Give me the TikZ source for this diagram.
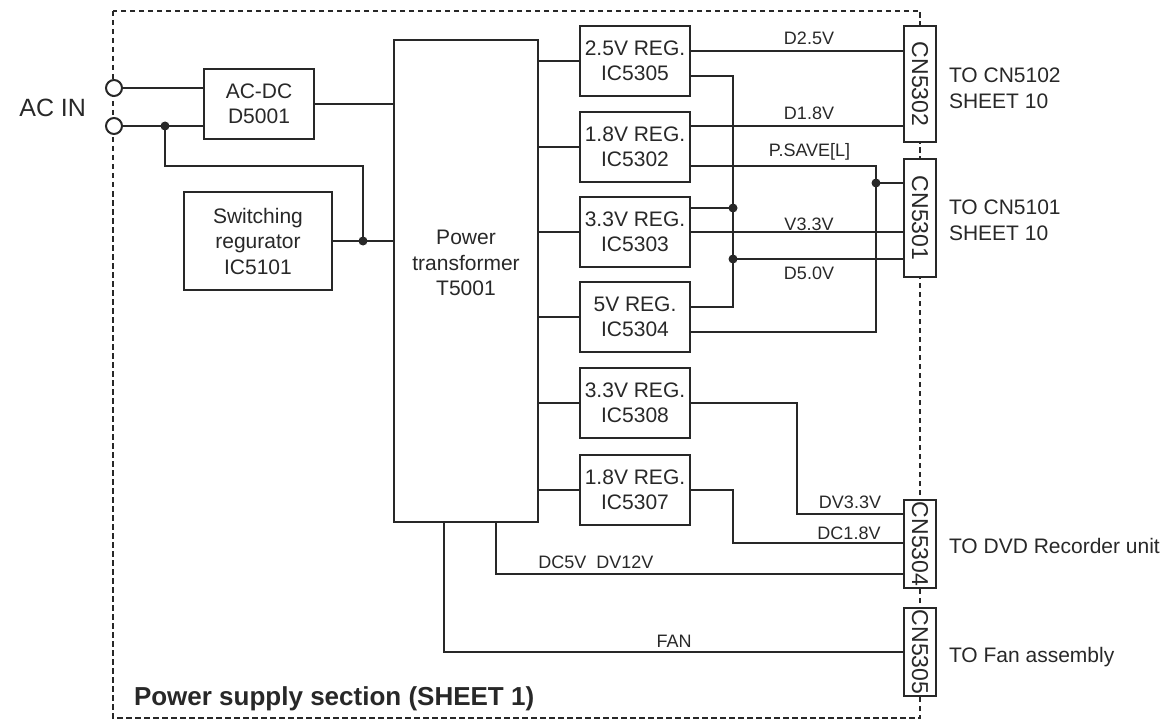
\documentclass[tikz,border=0pt]{standalone}
\usepackage{fontspec}
\setmainfont{Liberation Sans}
\definecolor{wire}{RGB}{40,40,40}
\usetikzlibrary{calc}

\begin{document}
\begin{tikzpicture}[x=1pt, y=-1pt, line width=2pt, color=wire,
  boxtxt/.style={align=center, inner sep=1pt, font=\fontsize{21}{25.5}\selectfont},
  blk/.style={boxtxt, draw, fill=white},
  regbox/.style={blk, minimum width=110pt, minimum height=70pt},
  cnbox/.style={draw, fill=white, inner sep=0pt, minimum width=32pt, font=\fontsize{23}{23}\selectfont},
  acterm/.style={circle, draw, fill=white, inner sep=0pt, minimum size=16pt},
  wlabel/.style={anchor=base, inner sep=0pt, font=\fontsize{18}{20}\selectfont},
  dest/.style={anchor=west, inner sep=0pt, align=left, font=\fontsize{21}{26}\selectfont}]

\useasboundingbox (0,0) rectangle (1166,722);

% section frame
\draw[line width=1.6pt, dash pattern=on 5.5pt off 3.5pt] (113,11) rectangle (920,718);
\node[anchor=base west, inner sep=0pt, font=\fontsize{26}{26}\selectfont\bfseries] (title) at (133,705) {Power supply section (SHEET 1)};

% input side
\node[anchor=base east, inner sep=0pt, font=\fontsize{25}{25}\selectfont] (acin) at (87,117) {AC IN};
\node[acterm] (ac1) at (114,88) {};
\node[acterm] (ac2) at (114,126) {};
\node[blk, minimum width=110pt, minimum height=70pt] (acdc) at (259,104) {AC-DC\\D5001};
\node[blk, minimum width=148pt, minimum height=98pt] (swreg) at (258,241) {Switching\\regurator\\IC5101};
\node[blk, minimum width=144pt, minimum height=482pt] (trans) at (466,281) {};
\node[boxtxt] (transtxt) at (466,263) {Power\\transformer\\T5001};

% regulators
\node[regbox] (r1) at (635,61) {2.5V REG.\\IC5305};
\node[regbox] (r2) at (635,147) {1.8V REG.\\IC5302};
\node[regbox] (r3) at (635,232) {3.3V REG.\\IC5303};
\node[regbox] (r4) at (635,317) {5V REG.\\IC5304};
\node[regbox] (r5) at (635,403) {3.3V REG.\\IC5308};
\node[regbox] (r6) at (635,490) {1.8V REG.\\IC5307};

% connectors
\node[cnbox, minimum height=116pt] (cn5302) at (920,84) {\rotatebox{-90}{CN5302}};
\node[cnbox, minimum height=118pt] (cn5301) at (920,218) {\rotatebox{-90}{CN5301}};
\node[cnbox, minimum height=88pt] (cn5304) at (920,544) {\rotatebox{-90}{CN5304}};
\node[cnbox, minimum height=88pt] (cn5305) at (920,652) {\rotatebox{-90}{CN5305}};

\node[dest] (to5102) at (948,88.5) {TO CN5102\\SHEET 10};
\node[dest] (to5101) at (948,220.5) {TO CN5101\\SHEET 10};
\node[dest, anchor=base west] (todvd) at (948,553) {TO DVD Recorder unit};
\node[dest, anchor=base west] (tofan) at (948,662) {TO Fan assembly};

% junctions
\coordinate (ja) at (165,126);
\coordinate (jb) at (363,241);
\coordinate (jc) at (733,208);
\coordinate (jd) at (733,259);
\coordinate (je) at (876,183);

% wiring
\draw (ac1) -- (acdc.west |- ac1);
\draw (ac2) -- (acdc.west |- ac2);
\draw (ja) -- ++(0,40) -| (jb);
\draw (swreg.east) -- (trans.west |- swreg.east);
\draw (acdc.east) -- (trans.west |- acdc.east);
\foreach \r in {r1,r2,r3,r4,r5,r6}
  \draw (trans.east |- \r.west) -- (\r.west);

\draw (r1.east |- 0,51) -- (cn5302.west |- 0,51);
\draw (r1.east |- 0,76) -| (733,307) -- (r4.east |- 0,307);
\draw (r2.east |- 0,126) -- (cn5302.west |- 0,126);
\draw (r2.east |- 0,166) -| (876,332) -- (r4.east |- 0,332);
\draw (je) -- (cn5301.west |- je);
\draw (r3.east |- jc) -- (jc);
\draw (r3.east) -- (cn5301.west |- r3.east);
\draw (jd) -- (cn5301.west |- jd);
\draw (r5.east) -| (797,514) -- (cn5304.west |- 0,514);
\draw (r6.east) -| (733,543) -- (cn5304.west |- 0,543);
\draw (trans.south -| 496,0) |- (cn5304.west |- 0,574);
\draw (trans.south -| 444,0) |- (cn5305.west);

\foreach \j in {ja,jb,jc,jd,je}
  \fill (\j) circle (4.5pt);

% line names
\node[wlabel] (l25) at (809,45) {D2.5V};
\node[wlabel] (l18) at (809,120) {D1.8V};
\node[wlabel] (lps) at (809.5,157) {P.SAVE[L]};
\node[wlabel] (l33) at (809,230) {V3.3V};
\node[wlabel] (l50) at (809,279) {D5.0V};
\node[wlabel] (ldv33) at (850,508) {DV3.3V};
\node[wlabel] (ldc18) at (849,539) {DC1.8V};
\node[wlabel] (ldc5) at (596,568) {DC5V\ \ DV12V};
\node[wlabel] (lfan) at (674,647) {FAN};

\end{tikzpicture}
\end{document}
